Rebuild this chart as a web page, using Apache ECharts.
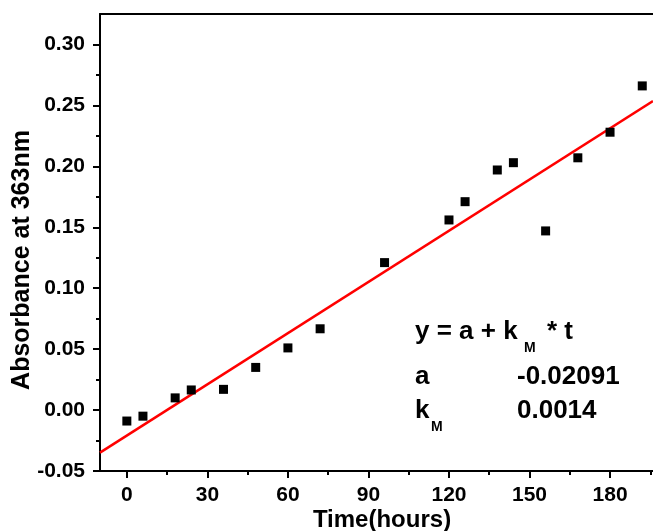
<!DOCTYPE html>
<html>
<head>
<meta charset="utf-8">
<title>Absorbance vs time</title>
<script src="https://cdn.jsdelivr.net/npm/echarts@6/dist/echarts.min.js"></script>
<style>
  html, body { margin: 0; padding: 0; background: #fff; }
  #chart { width: 653px; height: 531px; }
</style>
</head>
<body>
<div id="chart"></div>
<script>
// measured points
var hours = [0, 6, 18, 24, 36, 48, 60, 72, 96, 120, 126, 138, 144, 156, 168, 180, 192];
var absorbance = [-0.009, -0.005, 0.010, 0.0165, 0.017, 0.035, 0.051, 0.0667, 0.121, 0.156, 0.171, 0.197, 0.203, 0.147, 0.207, 0.228, 0.266];

// fitted line, read at the two ends of the x axis
var fitHours = [-10, 196];
var fitAbs = [-0.0349, 0.2535];

// axis ticks
var xTicks = [0, 30, 60, 90, 120, 150, 180];
var xMinorTicks = [15, 45, 75, 105, 135, 165, 195];
var yTicks = [-0.05, 0, 0.05, 0.10, 0.15, 0.20, 0.25, 0.30];
var yMinorTicks = [-0.025, 0.025, 0.075, 0.125, 0.175, 0.225, 0.275];

var font = "'Liberation Sans', Arial, sans-serif";

var points = hours.map(function (h, i) { return [h, absorbance[i]]; });
var fitLine = fitHours.map(function (h, i) { return [h, fitAbs[i]]; });

var chart = echarts.init(document.getElementById('chart'));

var option = {
  animation: false,
  grid: { left: 100, right: 0, top: 14, bottom: 60 },
  xAxis: [
    {
      type: 'value', position: 'bottom', min: -10, max: 196,
      splitLine: { show: false },
      axisLine: { onZero: false, lineStyle: { color: '#000', width: 2 } },
      axisTick: { customValues: xTicks, length: 7, lineStyle: { color: '#000', width: 2 } },
      axisLabel: {
        customValues: xTicks, margin: 14,
        color: '#000', fontSize: 21, fontWeight: 'bold', fontFamily: font
      }
    },
    {
      // minor ticks
      type: 'value', position: 'bottom', min: -10, max: 196,
      splitLine: { show: false },
      axisLine: { show: false, onZero: false },
      axisTick: { customValues: xMinorTicks, length: 4, lineStyle: { color: '#000', width: 2 } },
      axisLabel: { show: false }
    },
    {
      // top frame line
      type: 'value', position: 'top', min: -10, max: 196,
      splitLine: { show: false },
      axisLine: { onZero: false, lineStyle: { color: '#000', width: 2 } },
      axisTick: { show: false },
      axisLabel: { show: false }
    }
  ],
  yAxis: [
    {
      type: 'value', position: 'left', min: -0.05, max: 0.325,
      splitLine: { show: false },
      axisLine: { onZero: false, lineStyle: { color: '#000', width: 2 } },
      axisTick: { customValues: yTicks, length: 7, lineStyle: { color: '#000', width: 2 } },
      axisLabel: {
        customValues: yTicks, margin: 15,
        color: '#000', fontSize: 21, fontWeight: 'bold', fontFamily: font,
        formatter: function (v) { return v.toFixed(2); }
      }
    },
    {
      type: 'value', position: 'left', min: -0.05, max: 0.325,
      splitLine: { show: false },
      axisLine: { show: false, onZero: false },
      axisTick: { customValues: yMinorTicks, length: 4, lineStyle: { color: '#000', width: 2 } },
      axisLabel: { show: false }
    }
  ],
  series: [
    {
      type: 'line',
      data: fitLine,
      showSymbol: false,
      lineStyle: { color: '#ff0000', width: 2.5 },
      z: 2
    },
    {
      type: 'scatter',
      data: points,
      symbol: 'rect',
      symbolSize: 9,
      itemStyle: { color: '#000', opacity: 1 },
      z: 3
    }
  ],
  graphic: [
    // axis titles
    { type: 'text', x: 22, y: 260, rotation: Math.PI / 2,
      style: { text: 'Absorbance at 363nm', font: 'bold 25px ' + font, fill: '#000', align: 'center', verticalAlign: 'middle' } },
    { type: 'text', x: 382, y: 520,
      style: { text: 'Time(hours)', font: 'bold 24px ' + font, fill: '#000', align: 'center', verticalAlign: 'middle' } },
    // fit box
    { type: 'text', x: 415, y: 332,
      style: { text: 'y = a + k', font: 'bold 26px ' + font, fill: '#000', verticalAlign: 'middle' } },
    { type: 'text', x: 524, y: 348,
      style: { text: 'M', font: 'bold 14px ' + font, fill: '#000', verticalAlign: 'middle' } },
    { type: 'text', x: 547, y: 332,
      style: { text: '* t', font: 'bold 26px ' + font, fill: '#000', verticalAlign: 'middle' } },
    { type: 'text', x: 415, y: 377,
      style: { text: 'a', font: 'bold 26px ' + font, fill: '#000', verticalAlign: 'middle' } },
    { type: 'text', x: 517, y: 377,
      style: { text: '-0.02091', font: 'bold 26px ' + font, fill: '#000', verticalAlign: 'middle' } },
    { type: 'text', x: 415, y: 411,
      style: { text: 'k', font: 'bold 26px ' + font, fill: '#000', verticalAlign: 'middle' } },
    { type: 'text', x: 431, y: 427,
      style: { text: 'M', font: 'bold 14px ' + font, fill: '#000', verticalAlign: 'middle' } },
    { type: 'text', x: 517, y: 411,
      style: { text: '0.0014', font: 'bold 26px ' + font, fill: '#000', verticalAlign: 'middle' } }
  ]
};

chart.setOption(option);
</script>
</body>
</html>
